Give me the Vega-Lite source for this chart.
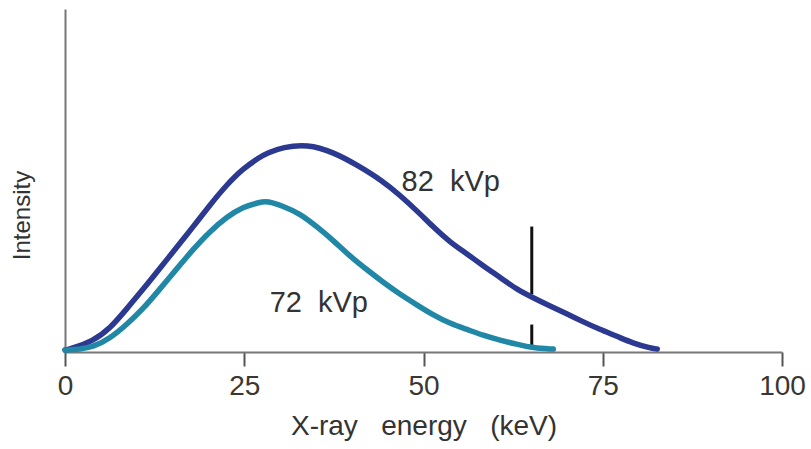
{
  "$schema": "https://vega.github.io/schema/vega-lite/v6.json",
  "width": 717,
  "height": 343,
  "autosize": {"type": "none"},
  "padding": {"left": 65, "top": 9, "right": 29, "bottom": 97},
  "background": "white",
  "config": {
    "view": {"stroke": null},
    "font": "Liberation Sans"
  },
  "datasets": {
    "spectra": [
      {"keV": 0, "I": 2, "series": "82 kVp"},
      {"keV": 0.7, "I": 3, "series": "82 kVp"},
      {"keV": 3.9, "I": 11, "series": "82 kVp"},
      {"keV": 6.3, "I": 24, "series": "82 kVp"},
      {"keV": 8.6, "I": 44, "series": "82 kVp"},
      {"keV": 10.9, "I": 64, "series": "82 kVp"},
      {"keV": 13.2, "I": 85, "series": "82 kVp"},
      {"keV": 15.6, "I": 107, "series": "82 kVp"},
      {"keV": 17.9, "I": 128, "series": "82 kVp"},
      {"keV": 20.2, "I": 150, "series": "82 kVp"},
      {"keV": 22.6, "I": 171, "series": "82 kVp"},
      {"keV": 24.8, "I": 187, "series": "82 kVp"},
      {"keV": 27.2, "I": 199, "series": "82 kVp"},
      {"keV": 28.2, "I": 203, "series": "82 kVp"},
      {"keV": 30.4, "I": 209, "series": "82 kVp"},
      {"keV": 33.8, "I": 212, "series": "82 kVp"},
      {"keV": 37.4, "I": 204, "series": "82 kVp"},
      {"keV": 40.7, "I": 191, "series": "82 kVp"},
      {"keV": 44.4, "I": 174, "series": "82 kVp"},
      {"keV": 46.7, "I": 160, "series": "82 kVp"},
      {"keV": 49.1, "I": 144, "series": "82 kVp"},
      {"keV": 51.3, "I": 128, "series": "82 kVp"},
      {"keV": 53.7, "I": 112, "series": "82 kVp"},
      {"keV": 56.1, "I": 100, "series": "82 kVp"},
      {"keV": 58.3, "I": 88, "series": "82 kVp"},
      {"keV": 60.7, "I": 76, "series": "82 kVp"},
      {"keV": 63.0, "I": 64, "series": "82 kVp"},
      {"keV": 65.1, "I": 56, "series": "82 kVp"},
      {"keV": 67.6, "I": 47, "series": "82 kVp"},
      {"keV": 70.0, "I": 39, "series": "82 kVp"},
      {"keV": 72.2, "I": 31, "series": "82 kVp"},
      {"keV": 74.6, "I": 23, "series": "82 kVp"},
      {"keV": 77.0, "I": 16, "series": "82 kVp"},
      {"keV": 79.2, "I": 9, "series": "82 kVp"},
      {"keV": 81.6, "I": 4, "series": "82 kVp"},
      {"keV": 82.6, "I": 3, "series": "82 kVp"},
      {"keV": 0, "I": 2, "series": "72 kVp"},
      {"keV": 2.1, "I": 3, "series": "72 kVp"},
      {"keV": 3.9, "I": 5, "series": "72 kVp"},
      {"keV": 6.3, "I": 14, "series": "72 kVp"},
      {"keV": 8.6, "I": 28, "series": "72 kVp"},
      {"keV": 10.9, "I": 44, "series": "72 kVp"},
      {"keV": 13.2, "I": 64, "series": "72 kVp"},
      {"keV": 15.6, "I": 85, "series": "72 kVp"},
      {"keV": 17.9, "I": 105, "series": "72 kVp"},
      {"keV": 20.2, "I": 123, "series": "72 kVp"},
      {"keV": 22.6, "I": 138, "series": "72 kVp"},
      {"keV": 24.8, "I": 148, "series": "72 kVp"},
      {"keV": 27.2, "I": 153, "series": "72 kVp"},
      {"keV": 28.2, "I": 154, "series": "72 kVp"},
      {"keV": 30.4, "I": 149, "series": "72 kVp"},
      {"keV": 32.8, "I": 141, "series": "72 kVp"},
      {"keV": 35.1, "I": 128, "series": "72 kVp"},
      {"keV": 37.4, "I": 114, "series": "72 kVp"},
      {"keV": 39.7, "I": 98, "series": "72 kVp"},
      {"keV": 42.1, "I": 84, "series": "72 kVp"},
      {"keV": 44.4, "I": 71, "series": "72 kVp"},
      {"keV": 46.7, "I": 59, "series": "72 kVp"},
      {"keV": 49.1, "I": 48, "series": "72 kVp"},
      {"keV": 51.3, "I": 38, "series": "72 kVp"},
      {"keV": 53.7, "I": 29, "series": "72 kVp"},
      {"keV": 56.1, "I": 23, "series": "72 kVp"},
      {"keV": 58.3, "I": 17, "series": "72 kVp"},
      {"keV": 60.7, "I": 12, "series": "72 kVp"},
      {"keV": 63.0, "I": 8, "series": "72 kVp"},
      {"keV": 65.3, "I": 4, "series": "72 kVp"},
      {"keV": 68.1, "I": 3, "series": "72 kVp"}
    ],
    "marker": [
      {"keV": 65.1, "I1": 128, "I2": 59},
      {"keV": 65.1, "I1": 28, "I2": 5}
    ],
    "labels": [
      {"keV": 53.8, "I": 173, "text": "82\u00a0\u00a0kVp"},
      {"keV": 35.4, "I": 50, "text": "72\u00a0\u00a0kVp"}
    ]
  },
  "layer": [
    {
      "data": {"name": "marker"},
      "mark": {"type": "rule", "color": "#111111", "strokeWidth": 3},
      "encoding": {
        "x": {"field": "keV", "type": "quantitative", "scale": {"domain": [0, 100]}},
        "y": {"field": "I1", "type": "quantitative", "scale": {"domain": [0, 343]}},
        "y2": {"field": "I2"}
      }
    },
    {
      "data": {"name": "spectra"},
      "mark": {"type": "line", "strokeWidth": 5.5, "interpolate": "basis", "strokeCap": "round", "strokeJoin": "round"},
      "encoding": {
        "x": {
          "field": "keV", "type": "quantitative",
          "scale": {"domain": [0, 100]},
          "axis": {
            "values": [0, 25, 50, 75, 100],
            "title": "X-ray\u00a0\u00a0\u00a0energy\u00a0\u00a0\u00a0(keV)",
            "titleFontSize": 28, "titleFontWeight": "normal", "titleColor": "#333333",
            "titlePadding": 12,
            "labelFontSize": 28, "labelColor": "#3a3632", "labelPadding": 6,
            "tickSize": 14, "tickWidth": 2, "tickColor": "#555555",
            "domainColor": "#777777", "domainWidth": 2,
            "grid": false, "labelFlush": false
          }
        },
        "y": {
          "field": "I", "type": "quantitative",
          "scale": {"domain": [0, 343]},
          "axis": {
            "title": "Intensity", "titleFontSize": 24, "titleFontWeight": "normal", "titleColor": "#333333",
            "titlePadding": 31, "titleY": 206,
            "labels": false, "ticks": false, "grid": false,
            "domainColor": "#777777", "domainWidth": 2
          }
        },
        "color": {
          "field": "series", "type": "nominal",
          "scale": {"domain": ["82 kVp", "72 kVp"], "range": ["#2b3990", "#2087a6"]},
          "legend": null
        },
        "order": {"field": "keV", "type": "quantitative"}
      }
    },
    {
      "data": {"name": "labels"},
      "mark": {"type": "text", "fontSize": 29, "color": "#333333", "align": "center", "baseline": "middle"},
      "encoding": {
        "x": {"field": "keV", "type": "quantitative"},
        "y": {"field": "I", "type": "quantitative"},
        "text": {"field": "text"}
      }
    }
  ]
}
